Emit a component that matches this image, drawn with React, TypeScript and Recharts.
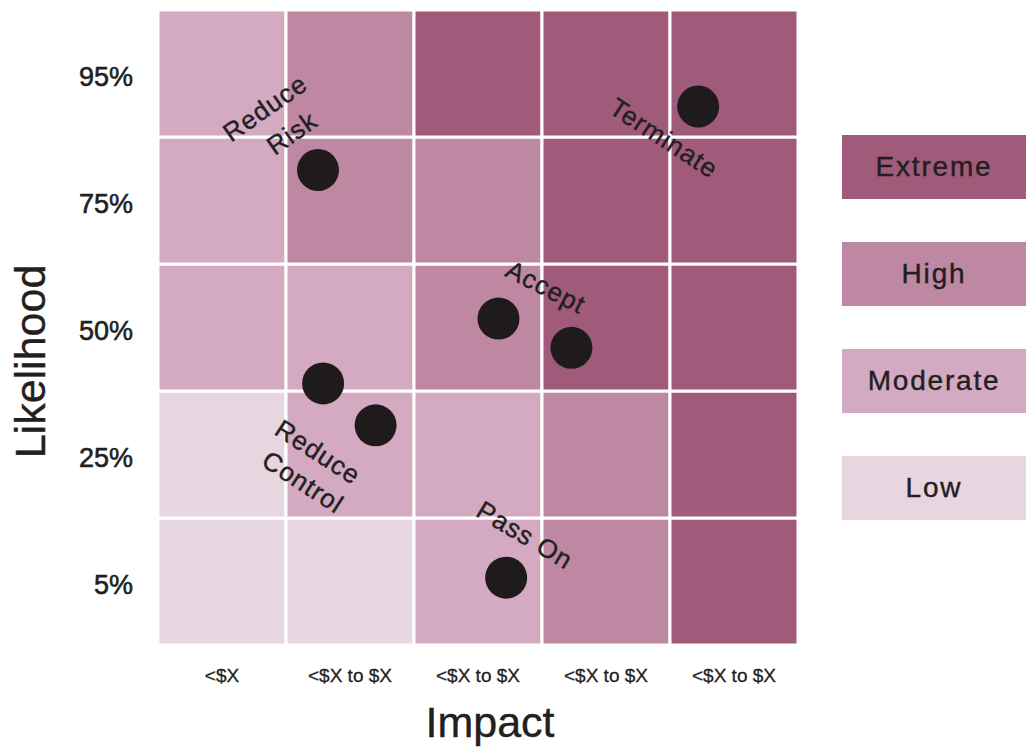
import React from 'react';
import { ScatterChart, Scatter, XAxis, YAxis, ReferenceArea, Legend } from 'recharts';

const impactLabels = ['<$X', '<$X to $X', '<$X to $X', '<$X to $X', '<$X to $X'];
const likelihoodLabels = ['5%', '25%', '50%', '75%', '95%'];
const levels = ['Extreme', 'High', 'Moderate', 'Low'];
const levelColors: Record<string, string> = {
  Extreme: '#a05a7a',
  High: '#be87a2',
  Moderate: '#d3aac1',
  Low: '#e7d5e0',
};
// grid rows from bottom (5%) to top (95%), columns left to right by impact
const row5 = ['Low', 'Low', 'Moderate', 'High', 'Extreme'];
const row25 = ['Low', 'Moderate', 'Moderate', 'High', 'Extreme'];
const row50 = ['Moderate', 'Moderate', 'High', 'Extreme', 'Extreme'];
const row75 = ['Moderate', 'High', 'High', 'Extreme', 'Extreme'];
const row95 = ['Moderate', 'High', 'Extreme', 'Extreme', 'Extreme'];
const gridRows = [row5, row25, row50, row75, row95];

const riskPoints = [
  { x: 1.25, y: 3.74 },
  { x: 4.22, y: 4.24 },
  { x: 2.66, y: 2.57 },
  { x: 3.23, y: 2.34 },
  { x: 1.29, y: 2.06 },
  { x: 1.7, y: 1.73 },
  { x: 2.72, y: 0.53 },
];

const annotations = [
  { text: 'Reduce', x: 0.836, y: 4.228, angle: -35 },
  { text: 'Risk', x: 1.047, y: 4.031, angle: -35 },
  { text: 'Terminate', x: 3.953, y: 3.992, angle: 33 },
  { text: 'Accept', x: 3.031, y: 2.819, angle: 27 },
  { text: 'Reduce', x: 1.25, y: 1.52, angle: 33 },
  { text: 'Control', x: 1.133, y: 1.283, angle: 33 },
  { text: 'Pass On', x: 2.867, y: 0.866, angle: 31 },
];

const tickPositions = [0.5, 1.5, 2.5, 3.5, 4.5];
const FONT = '"Liberation Sans", Arial, Helvetica, sans-serif';
const INK = '#231f20';

const cells: { x1: number; x2: number; y1: number; y2: number; level: string }[] = [];
gridRows.forEach((row, ri) => {
  row.forEach((level, ci) => {
    cells.push({ x1: ci, x2: ci + 1, y1: ri, y2: ri + 1, level });
  });
});

const PointShape = (props: any) => (
  <circle cx={props.cx} cy={props.cy} r={21} fill="#1f1a1b" />
);

const LabelShape = (props: any) => {
  const { cx, cy, payload } = props;
  return (
    <text
      x={cx}
      y={cy}
      textAnchor="middle"
      dominantBaseline="central"
      transform={`rotate(${payload.angle} ${cx} ${cy})`}
      fill={INK}
      stroke={INK}
      strokeWidth={0.4}
      style={{ fontFamily: FONT, fontSize: 26, letterSpacing: 1 }}
    >
      {payload.text}
    </text>
  );
};

const LegendContent = () => (
  <div style={{ display: 'flex', flexDirection: 'column', width: 184 }}>
    {levels.map((l) => (
      <div
        key={l}
        style={{
          height: 64,
          marginBottom: 43,
          background: levelColors[l],
          display: 'flex',
          alignItems: 'center',
          justifyContent: 'center',
          fontFamily: FONT,
          fontSize: 28,
          letterSpacing: 1.8,
          color: INK,
          WebkitTextStroke: '0.4px #231f20',
        }}
      >
        {l}
      </div>
    ))}
  </div>
);

const YLabel = (props: any) => {
  const vb = props.viewBox || { x: 0, y: 10, width: 158, height: 635 };
  const x = vb.x + 30;
  const y = vb.y + vb.height / 2 + 34;
  return (
    <text
      x={x}
      y={y}
      textAnchor="middle"
      dominantBaseline="central"
      transform={`rotate(-90 ${x} ${y})`}
      fill={INK}
      stroke={INK}
      strokeWidth={0.4}
      style={{ fontFamily: FONT, fontSize: 43 }}
    >
      Likelihood
    </text>
  );
};

const XLabel = (props: any) => {
  const vb = props.viewBox || { x: 158, y: 645, width: 640, height: 102 };
  const x = vb.x + vb.width / 2 + 12;
  const y = vb.y + vb.height - 10;
  return (
    <text
      x={x}
      y={y}
      textAnchor="middle"
      fill={INK}
      stroke={INK}
      strokeWidth={0.4}
      style={{ fontFamily: FONT, fontSize: 43 }}
    >
      Impact
    </text>
  );
};

export default function App() {
  return (
    <div style={{ position: 'absolute', left: 0, top: 0, background: '#fff' }}>
      <ScatterChart width={1026} height={747} margin={{ top: 10, right: 228, bottom: 0, left: 0 }}>
        <XAxis
          type="number"
          dataKey="x"
          domain={[0, 5]}
          allowDataOverflow
          ticks={tickPositions}
          interval={0}
          tickFormatter={(v: number) => impactLabels[Math.floor(v)]}
          axisLine={false}
          tickLine={false}
          tickSize={0}
          tickMargin={24}
          height={102}
          tick={{ fontFamily: FONT, fontSize: 19, fill: INK, stroke: INK, strokeWidth: 0.3 }}
          label={<XLabel />}
        />
        <YAxis
          type="number"
          dataKey="y"
          domain={[0, 5]}
          allowDataOverflow
          ticks={tickPositions}
          interval={0}
          tickFormatter={(v: number) => likelihoodLabels[Math.floor(v)]}
          axisLine={false}
          tickLine={false}
          tickSize={0}
          tickMargin={25}
          width={158}
          tick={{ fontFamily: FONT, fontSize: 27, fill: INK, stroke: INK, strokeWidth: 0.6, dy: 3 }}
          label={<YLabel />}
        />
        {cells.map((c, i) => (
          <ReferenceArea
            key={i}
            x1={c.x1}
            x2={c.x2}
            y1={c.y1}
            y2={c.y2}
            fill={levelColors[c.level]}
            fillOpacity={1}
            stroke="#ffffff"
            strokeWidth={3}
            ifOverflow="visible"
          />
        ))}
        <Scatter data={riskPoints} shape={PointShape} isAnimationActive={false} legendType="none" />
        <Scatter data={annotations} shape={LabelShape} isAnimationActive={false} legendType="none" />
        <Legend
          layout="vertical"
          align="center"
          verticalAlign="middle"
          width={184}
          content={<LegendContent />}
          wrapperStyle={{ left: 842, top: 135, width: 184 }}
        />
      </ScatterChart>
    </div>
  );
}
